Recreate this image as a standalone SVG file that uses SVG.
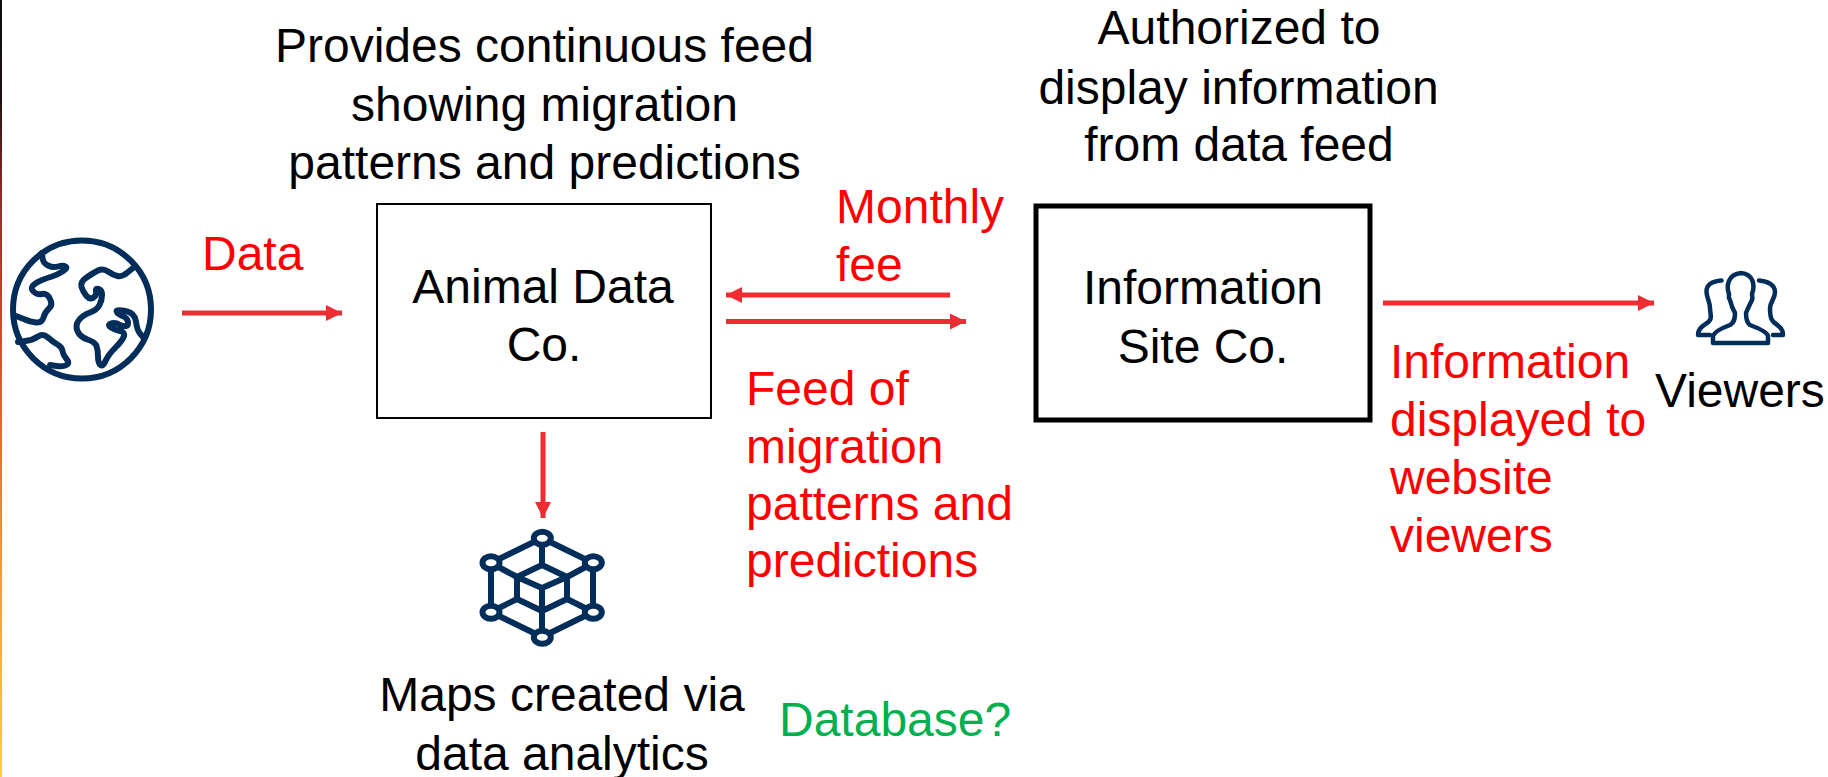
<svg xmlns="http://www.w3.org/2000/svg" width="1828" height="777" viewBox="0 0 1828 777">
<style>
text{font-family:"Liberation Sans",Arial,sans-serif;font-size:48px}
.k{fill:#000}.r{fill:#f00}.g{fill:#00b050}.m{text-anchor:middle}
.c{stroke:#ee2d32;stroke-width:5;fill:none}
.i{fill:none;stroke:#002d5a;stroke-width:6;stroke-linecap:round;stroke-linejoin:round}
.p{fill:none;stroke:#002d5a;stroke-width:4.500;stroke-linecap:round;stroke-linejoin:round}
.h{fill:#fff;stroke:#002d5a;stroke-width:6}
</style>
<defs>
<linearGradient id="bar" x1="0" y1="0" x2="0" y2="1"><stop offset="0" stop-color="#0c0c0c"/><stop offset=".12" stop-color="#1c1010"/><stop offset=".26" stop-color="#9c2a2a"/><stop offset=".45" stop-color="#e8452f"/><stop offset=".7" stop-color="#f0962a"/><stop offset="1" stop-color="#f5d824"/></linearGradient>
<marker id="a" markerUnits="userSpaceOnUse" markerWidth="16" markerHeight="16" refX="16" refY="8" orient="auto"><path d="M0 0L16 8L0 16Z" fill="#ee2d32"/></marker>
</defs>
<rect width="1828" height="777" fill="#fff"/>
<rect x="0" y="0" width="2" height="777" fill="url(#bar)"/>
<g id="connectors">
<path class="c" d="M182 313H342" marker-end="url(#a)"/>
<path class="c" d="M950 295H726" marker-end="url(#a)"/>
<path class="c" d="M726 321.500H966" marker-end="url(#a)"/>
<path class="c" d="M1383 303H1654" marker-end="url(#a)"/>
<path class="c" d="M543 432V518" marker-end="url(#a)"/>
</g>
<g id="globe">
<circle class="i" cx="82" cy="309.500" r="69"/>
<path class="i" d="M42 253L42.500 258Q43 263 48 265.500Q53 268 58 266.500Q63 265 65.500 266.500Q68 268 62.500 271.500Q57 275 52 276.500Q47 278 42 280Q37 282 33.500 285Q30 288 33.500 291.500Q37 295 42 294Q47 293 50 299Q53 305 49 308.500Q45 312 43.500 317.500Q42 323 36 322.500Q30 322 25 319.500L16 316"/>
<path class="i" d="M18 342L25.500 341Q33 340 38 336.500Q43 333 48 337.500Q53 342 57.500 344.500Q62 347 62.500 351Q63 355 66.500 359Q70 363 66.500 365Q63 367 56.500 366L50 365"/>
<path class="i" d="M133 268L127.500 272.500Q122 277 117.500 276Q113 275 108 271.500Q103 268 98 270.500Q93 273 86.500 277.500Q80 282 81.500 287Q83 292 86.500 296Q90 300 93.500 297.500Q97 295 96 291.500Q95 288 98.500 289Q102 290 102 295Q102 300 99.500 305Q97 310 90 312.500Q83 315 79 320Q75 325 77.500 331Q80 337 87.500 339.500Q95 342 96.500 346Q98 350 98 356.500Q98 363 100.500 365Q103 367 105.500 361Q108 355 115.500 347.500Q123 340 124 336Q125 332 120 331Q115 330 111 327.500Q107 325 111 323.500Q115 322 120 325Q128 328 128 323Q128 318 122.500 316Q116 313 116.500 311Q117 309 125.500 311Q135 313 136 321.500Q137 330 140 333.500L143 337"/>
</g>
<g id="animal-data">
<rect x="377" y="204" width="334" height="214" fill="#fff" stroke="#000" stroke-width="2"/>
<text class="k m" x="543" y="303">Animal Data</text>
<text class="k m" x="544" y="361">Co.</text>
</g>
<g id="information-site">
<rect x="1036" y="206" width="334" height="214" fill="#fff" stroke="#000" stroke-width="5"/>
<text class="k m" x="1203" y="304">Information</text>
<text class="k m" x="1203" y="363">Site Co.</text>
</g>
<g id="viewers">
<path class="p" d="M1741 343H1713V336C1714 332 1722 328 1730 325C1735 322 1735 317 1735 313C1732 308 1731 304 1730 300C1728 298 1729 296 1729 294C1726 286 1728 274 1741 273C1754 274 1755 286 1752 294C1752 296 1753 298 1752 300C1750 304 1748 308 1746 313C1746 317 1746 322 1750 325C1758 328 1767 332 1768 336V343Z"/>
<path class="p" d="M1721.500 280.500C1712 281 1706 285 1706.500 292C1707 299 1710 302 1710 308C1710 313 1712 317 1710 320C1707 325 1698 326 1698 335H1710"/>
<path class="p" d="M1759 280.500C1768 281 1775 285 1775 292C1775 299 1770 302 1770 308C1770 313 1770 317 1772 320C1775 325 1783 326 1783 335H1773"/>
<text class="k" x="1655" y="407">Viewers</text>
</g>
<g id="data-store">
<path class="i" d="M542 538L491 563V612L542 637L593 612V563Z"/>
<path class="i" d="M542 538V565M491 563L517 577M593 563L567 577M491 612L517 599M593 612L567 599M542 611V637"/>
<path class="i" d="M542 565L567 577V599L542 611L517 599V577ZM517 577L542 588L567 577M542 588V611"/>
<ellipse class="h" cx="542.300" cy="538.300" rx="8.500" ry="6.500"/>
<ellipse class="h" cx="491" cy="562.700" rx="8.500" ry="6.500"/>
<ellipse class="h" cx="593.300" cy="562.700" rx="8.500" ry="6.500"/>
<ellipse class="h" cx="491" cy="612.300" rx="8.500" ry="6.500"/>
<ellipse class="h" cx="593.300" cy="612.300" rx="8.500" ry="6.500"/>
<ellipse class="h" cx="542.300" cy="637.300" rx="8.500" ry="6.500"/>
</g>
<g id="labels">
<text class="k m" x="544.500" y="62">Provides continuous feed</text>
<text class="k m" x="544.500" y="121">showing migration</text>
<text class="k m" x="544.500" y="179">patterns and predictions</text>
<text class="k m" x="1239" y="44">Authorized to</text>
<text class="k m" x="1238.500" y="104">display information</text>
<text class="k m" x="1239" y="161">from data feed</text>
<text class="r" x="202" y="270">Data</text>
<text class="r" x="836" y="223">Monthly</text>
<text class="r" x="836" y="281">fee</text>
<text class="r" x="746" y="405">Feed of</text>
<text class="r" x="746" y="463">migration</text>
<text class="r" x="746" y="520">patterns and</text>
<text class="r" x="746" y="577">predictions</text>
<text class="r" x="1390" y="378">Information</text>
<text class="r" x="1390" y="436">displayed to</text>
<text class="r" x="1390" y="494">website</text>
<text class="r" x="1390" y="552">viewers</text>
<text class="k m" x="562" y="711">Maps created via</text>
<text class="k m" x="562" y="770">data analytics</text>
<text class="g" x="779" y="736">Database?</text>
</g>
</svg>
